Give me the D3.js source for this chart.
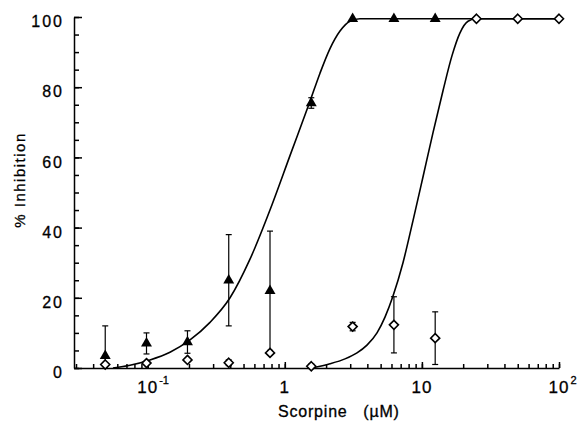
<!DOCTYPE html>
<html>
<head>
<meta charset="utf-8">
<script src="https://cdn.jsdelivr.net/npm/d3@7"></script>
<style>
  body { margin: 0; background: #fff; }
  svg { display: block; }
  text { font-family: "Liberation Sans", Arial, Helvetica, sans-serif; fill: #000; stroke: #000; stroke-width: 0.3px; }
</style>
</head>
<body>
<svg id="chart" width="579" height="429"></svg>
<script>
// Two-fold dilution series of scorpine (µM)
const concentrations = [0.049, 0.098, 0.195, 0.39, 0.78, 1.56, 3.125, 6.25, 12.5, 25, 50, 100];

// Filled triangles: % inhibition and error
const filledValues = [3.5, 7, 7.4, 25, 22, 75.5, 99.5, 99.5, 99.5];
const filledErrors = [8.5, 3, 3.2, 13, 17, 1.5, 0, 0, 0];

// Open diamonds: % inhibition and error
const openValues = [1, 1.4, 2.3, 1.5, 4.3, 0.5, 11.8, 12.3, 8.5, 99.5, 99.5, 99.5];
const openErrors = [0, 0, 0, 0.8, 0, 0.6, 1.2, 8, 7.5, 0, 0, 0];

// Fitted dose-response curves (concentration, % inhibition)
const fitFilledX = [0.0558, 0.0743, 0.1039, 0.1454, 0.2035, 0.2847, 0.3985, 0.5573, 0.8065, 1.091, 1.527, 1.806, 2.136, 2.527, 2.989, 3.536, 100];
const fitFilledY = [0, 0.8, 2.3, 4.5, 8.0, 13.0, 20.0, 31.0, 46.5, 60.5, 76.0, 84.0, 91.0, 96.0, 98.8, 99.5, 99.5];
const fitOpenX = [1.579, 2.136, 2.749, 3.362, 3.976, 4.704, 5.380, 6.155, 7.279, 8.612, 10.19, 12.04, 14.25, 16.58, 18.96, 21.69, 24.81, 100];
const fitOpenY = [0, 1.2, 2.6, 4.3, 6.5, 10, 14.5, 20.5, 30, 42, 54.5, 67, 79, 89, 95.5, 98.8, 99.5, 99.5];

// Axis ticks and labels
const xMin = 0.029, xMax = 100;
const xTickValues = [0.1, 1, 10, 100];
const xTickBase = ["10", "1", "10", "10"];
const xTickSup = ["-1", "", "", "2"];
const yTickValues = [0, 20, 40, 60, 80, 100];
const yMinorTicks = d3.range(0, 101, 5);
const xTitle = "Scorpine\u00A0\u00A0\u00A0(µM)";
const yTitle = "% Inhibition";

const svg = d3.select("#chart");
svg.append("rect").attr("width", 579).attr("height", 429).attr("fill", "#fff");

const x = d3.scaleLog().domain([xMin, xMax]).range([74, 559]);
const y = d3.scaleLinear().domain([0, 100]).range([368, 17]);

// minor x ticks: 1..9 within each decade inside the domain
const xMinorTicks = [];
for (let e = -2; e <= 2; e++) {
  for (let m = 1; m <= 9; m++) {
    const v = m * Math.pow(10, e);
    if (v >= xMin - 1e-9 && v <= xMax + 1e-9) xMinorTicks.push(v);
  }
}

// X axis (ticks pointing inward)
const gx = svg.append("g").attr("transform", `translate(0,${y(0)})`);
gx.call(d3.axisBottom(x).tickValues(xMinorTicks).tickSizeInner(-4).tickSizeOuter(0).tickFormat(""));
gx.append("g").call(d3.axisBottom(x).tickValues(xTickValues).tickSizeInner(-6).tickSizeOuter(0).tickFormat(""))
  .select(".domain").remove();
gx.selectAll("path,line").attr("stroke", "#000").attr("stroke-width", 1.5);

// Y axis (ticks pointing inward)
const gy = svg.append("g").attr("transform", `translate(${x(xMin)},0)`);
gy.call(d3.axisLeft(y).tickValues(yMinorTicks).tickSizeInner(-5).tickSizeOuter(0).tickFormat(""));
const gyMajor = gy.append("g").call(d3.axisLeft(y).tickValues(yTickValues).tickSizeInner(-8).tickSizeOuter(0).tickPadding(10));
gyMajor.select(".domain").remove();
gy.selectAll("path,line").attr("stroke", "#000").attr("stroke-width", 1.5);
gyMajor.selectAll("text")
  .attr("dy", "0.6em")
  .style("font-size", "16px")
  .style("letter-spacing", "2px")
  .style("font-family", "'Liberation Sans', Arial, sans-serif")
  .attr("fill", "#000");

// X tick labels with superscript exponents
xTickValues.forEach((v, i) => {
  const t = svg.append("text")
    .attr("x", x(v)).attr("y", 393)
    .attr("text-anchor", "middle")
    .style("font-size", "17px").style("letter-spacing", "1px")
    .text(xTickBase[i]);
  if (xTickSup[i]) {
    const w = t.node().getComputedTextLength();
    svg.append("text")
      .attr("x", x(v) + w / 2 + 1).attr("y", 384)
      .style("font-size", "11px")
      .text(xTickSup[i]);
  }
});

// Axis titles
svg.append("text")
  .attr("x", 278).attr("y", 417)
  .style("font-size", "16px").style("letter-spacing", "0.8px")
  .text(xTitle);
svg.append("text")
  .attr("transform", `translate(25,${180}) rotate(-90)`)
  .attr("text-anchor", "middle")
  .style("font-size", "15px").style("letter-spacing", "1.5px")
  .text(yTitle);

// Fitted curves
const line = d3.line().x(d => x(d[0])).y(d => y(d[1])).curve(d3.curveMonotoneX);
svg.append("path")
  .datum(fitFilledX.map((c, i) => [c, fitFilledY[i]]))
  .attr("d", line).attr("fill", "none").attr("stroke", "#000").attr("stroke-width", 1.6);
svg.append("path")
  .datum(fitOpenX.map((c, i) => [c, fitOpenY[i]]))
  .attr("d", line).attr("fill", "none").attr("stroke", "#000").attr("stroke-width", 1.6);

// Error bars
function errorBars(values, errors) {
  const g = svg.append("g").attr("stroke", "#000").attr("stroke-width", 1.2);
  values.forEach((v, i) => {
    const e = errors[i];
    if (!e) return;
    const cx = x(concentrations[i]);
    const top = y(v + e), bot = y(Math.max(0, v - e));
    g.append("line").attr("x1", cx).attr("x2", cx).attr("y1", top).attr("y2", bot);
    g.append("line").attr("x1", cx - 3).attr("x2", cx + 3).attr("y1", top).attr("y2", top);
    if (v - e > 0) g.append("line").attr("x1", cx - 3).attr("x2", cx + 3).attr("y1", bot).attr("y2", bot);
  });
}
errorBars(openValues, openErrors);
errorBars(filledValues, filledErrors);

// Open diamonds
svg.append("g").selectAll("path")
  .data(openValues.map((v, i) => [concentrations[i], v]))
  .join("path")
  .attr("transform", d => `translate(${x(d[0])},${y(d[1])})`)
  .attr("d", d3.symbol(d3.symbolDiamond2, 52))
  .attr("fill", "#fff").attr("stroke", "#000").attr("stroke-width", 1.6);

// Filled triangles
svg.append("g").selectAll("path")
  .data(filledValues.map((v, i) => [concentrations[i], v]))
  .join("path")
  .attr("transform", d => `translate(${x(d[0])},${y(d[1])})`)
  .attr("d", d3.symbol(d3.symbolTriangle, 52))
  .attr("fill", "#000");
</script>
</body>
</html>
